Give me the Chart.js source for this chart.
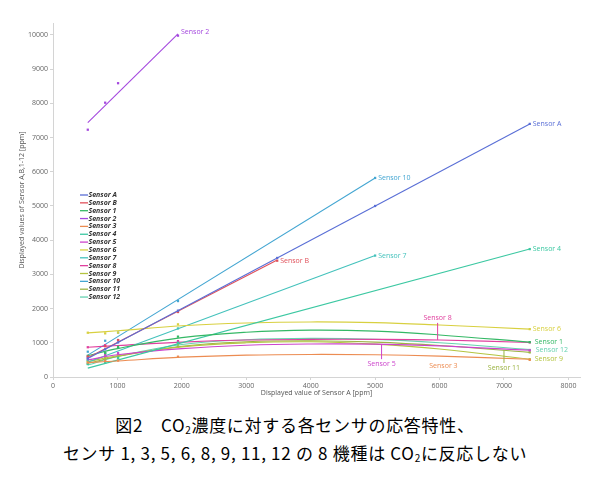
<!DOCTYPE html>
<html>
<head>
<meta charset="utf-8">
<script src="https://cdn.jsdelivr.net/npm/chart.js@4.4.0/dist/chart.umd.min.js"></script>
<style>
body { margin: 0; background: #fff; }
#wrap { position: relative; width: 590px; height: 477px; overflow: hidden; }
.cap { position: absolute; left: 0; width: 590px; text-align: center; font-family: "Noto Sans CJK JP", sans-serif; font-size: 17px; line-height: 20px; letter-spacing: 0.7px; color: #000; }
.cap sub { font-size: 10px; vertical-align: -2px; line-height: 0; }
</style>
</head>
<body>
<div id="wrap">
  <canvas id="chart" width="590" height="402"></canvas>
  <div class="cap" style="top:415px">図2　CO<sub>2</sub>濃度に対する各センサの応答特性、</div>
  <div class="cap" style="top:443px">センサ 1, 3, 5, 6, 8, 9, 11, 12 の 8 機種は CO<sub>2</sub>に反応しない</div>
</div>
<script>
// names and colours, same order as the legend
var sensorNames = ['Sensor A', 'Sensor B', 'Sensor 1', 'Sensor 2', 'Sensor 3', 'Sensor 4', 'Sensor 5',
    'Sensor 6', 'Sensor 7', 'Sensor 8', 'Sensor 9', 'Sensor 10', 'Sensor 11', 'Sensor 12'];
var sensorColors = ['#5a6fd6', '#e0505a', '#34b865', '#a448de', '#ec8c52', '#3cc8a2', '#cc44cc',
    '#d8d040', '#44c2bc', '#e0409e', '#b4c440', '#44a6d2', '#9cb444', '#66d2b0'];

// measured points [x, y]
var measA = [[540, 540], [810, 810], [1010, 1010], [1940, 1940], [3480, 3480], [5000, 5000], [7400, 7400]];
var measB = [[540, 600], [810, 900], [1010, 1080], [1940, 1900], [3480, 3400]];
var meas1 = [[540, 620], [810, 700], [1010, 880], [1940, 1180], [7400, 1020]];
var meas2 = [[540, 7230], [810, 8020], [1010, 8590], [1940, 9980]];
var meas3 = [[540, 420], [810, 470], [1010, 480], [1940, 594], [7400, 500]];
var meas4 = [[540, 380], [810, 450], [1010, 560], [1940, 1000], [7400, 3740]];
var meas5 = [[540, 560], [810, 650], [1010, 700], [1940, 1000], [7400, 780]];
var meas6 = [[540, 1295], [810, 1276], [1010, 1300], [1940, 1540], [7400, 1400]];
var meas7 = [[540, 500], [810, 700], [1010, 850], [1940, 1420], [5000, 3550]];
var meas8 = [[540, 870], [810, 930], [1010, 1080], [1940, 1050], [7400, 1010]];
var meas9 = [[540, 480], [810, 600], [1010, 650], [1940, 960], [7400, 520]];
var meas10 = [[540, 740], [810, 1060], [1010, 1300], [1940, 2220], [5000, 5820]];
var meas11 = [[540, 450], [810, 560], [1010, 620], [1940, 880], [7400, 720]];
var meas12 = [[540, 380], [810, 420], [1010, 560], [1940, 900], [7400, 790]];

// trend lines [x, y]
var trendA = [[540, 540], [7400, 7400]];
var trendB = [[540, 560], [3480, 3420]];
var trend1 = [[540, 620], [1000, 830], [2000, 1150], [3000, 1310], [4000, 1370], [5000, 1340], [6000, 1230], [7400, 1020]];
var trend2 = [[540, 7440], [1940, 10030]];
var trend3 = [[540, 420], [1000, 470], [2000, 580], [3000, 640], [4000, 660], [5000, 650], [6000, 610], [7400, 520]];
var trend4 = [[540, 260], [7400, 3743]];
var trend5 = [[540, 500], [1000, 650], [2000, 830], [3000, 930], [4000, 965], [5000, 960], [6000, 910], [7400, 780]];
var trend6 = [[540, 1290], [1000, 1350], [2000, 1500], [3000, 1580], [4000, 1610], [5000, 1590], [6000, 1520], [7400, 1400]];
var trend7 = [[540, 430], [5000, 3550]];
var trend8 = [[540, 870], [1000, 920], [2000, 1020], [3000, 1080], [4000, 1100], [5000, 1100], [6000, 1080], [7400, 1010]];
var trend9 = [[540, 450], [1000, 620], [2000, 880], [3000, 1000], [4000, 1030], [5000, 960], [6000, 820], [7400, 520]];
var trend10 = [[540, 640], [5000, 5820]];
var trend11 = [[540, 400], [1000, 600], [2000, 900], [3000, 1030], [4000, 1060], [5000, 1020], [6000, 920], [7400, 720]];
var trend12 = [[540, 350], [1000, 600], [2000, 950], [3000, 1090], [4000, 1130], [5000, 1100], [6000, 1000], [7400, 800]];

var xTicks = [0, 1000, 2000, 3000, 4000, 5000, 6000, 7000, 8000];
var yTicks = [0, 1000, 2000, 3000, 4000, 5000, 6000, 7000, 8000, 9000, 10000];

var measList = [measA, measB, meas1, meas2, meas3, meas4, meas5, meas6, meas7, meas8, meas9, meas10, meas11, meas12];
var trendList = [trendA, trendB, trend1, trend2, trend3, trend4, trend5, trend6, trend7, trend8, trend9, trend10, trend11, trend12];

function toXY(arr) {
    return arr.map(function (p) { return { x: p[0], y: p[1] }; });
}

var datasets = [];
for (var i = 0; i < sensorNames.length; i++) {
    datasets.push({
        label: sensorNames[i],
        data: toXY(trendList[i]),
        showLine: true,
        borderColor: sensorColors[i],
        borderWidth: 1.1,
        pointRadius: 0,
        tension: trendList[i].length > 2 ? 0.4 : 0
    });
    datasets.push({
        label: sensorNames[i] + ' data',
        data: toXY(measList[i]),
        showLine: false,
        pointStyle: 'rect',
        pointRadius: 1.6,
        backgroundColor: sensorColors[i],
        borderColor: sensorColors[i],
        borderWidth: 0
    });
}

// end labels: sensor index, anchor point, text offset, leader line
var tags = [
    { s: 3, x: 1940, y: 10030, dx: 3, dy: -2, align: 'left' },
    { s: 0, x: 7400, y: 7400, dx: 3, dy: 0, align: 'left' },
    { s: 11, x: 5000, y: 5820, dx: 3, dy: 0, align: 'left' },
    { s: 1, x: 3480, y: 3400, dx: 3, dy: 0, align: 'left' },
    { s: 8, x: 5000, y: 3547, dx: 3, dy: 0, align: 'left' },
    { s: 5, x: 7400, y: 3743, dx: 3, dy: 0, align: 'left' },
    { s: 7, x: 7400, y: 1400, dx: 3, dy: 0, align: 'left' },
    { s: 2, x: 7400, y: 1020, dx: 5, dy: 0, align: 'left' },
    { s: 13, x: 7400, y: 800, dx: 6, dy: 0, align: 'left' },
    { s: 10, x: 7400, y: 520, dx: 5, dy: 0, align: 'left' },
    { s: 9, x: 5970, y: 1085, dx: 0, dy: -22, align: 'center', leader: true },
    { s: 6, x: 5100, y: 960, dx: 0, dy: 20, align: 'center', leader: true },
    { s: 4, x: 6060, y: 600, dx: 0, dy: 10, align: 'center' },
    { s: 12, x: 7000, y: 790, dx: 0, dy: 18, align: 'center', leader: true }
];

var tagPlugin = {
    id: 'tags',
    afterDatasetsDraw: function (chart) {
        var ctx = chart.ctx;
        var xs = chart.scales.x, ys = chart.scales.y;
        ctx.save();
        ctx.font = '7px "Open Sans"';
        ctx.textBaseline = 'middle';
        tags.forEach(function (t) {
            var px = xs.getPixelForValue(t.x), py = ys.getPixelForValue(t.y);
            var col = sensorColors[t.s];
            if (t.leader) {
                ctx.strokeStyle = col;
                ctx.lineWidth = 1;
                ctx.beginPath();
                ctx.moveTo(px, py);
                ctx.lineTo(px, py + t.dy + (t.dy > 0 ? -5 : 5));
                ctx.stroke();
            }
            ctx.fillStyle = col;
            ctx.textAlign = t.align;
            ctx.fillText(sensorNames[t.s], px + t.dx, py + t.dy);
        });

        // legend box on the left
        ctx.font = 'italic bold 7px "Open Sans"';
        ctx.textAlign = 'left';
        for (var i = 0; i < sensorNames.length; i++) {
            var ly = 195 + i * 7.85;
            ctx.strokeStyle = sensorColors[i];
            ctx.lineWidth = 1.3;
            ctx.beginPath();
            ctx.moveTo(80, ly);
            ctx.lineTo(88, ly);
            ctx.stroke();
            ctx.fillStyle = '#333';
            ctx.fillText(sensorNames[i], 88.5, ly);
        }
        ctx.restore();
    }
};

var tickFont = { size: 7, family: 'Open Sans' };

function plainTick(value) {
    return String(value);
}

var myChart = new Chart(document.getElementById('chart'), {
    type: 'scatter',
    data: { datasets: datasets },
    options: {
        responsive: false,
        animation: false,
        layout: { padding: { top: 23, right: 10, left: 0, bottom: 0 } },
        plugins: { legend: { display: false }, tooltip: { enabled: false } },
        scales: {
            x: {
                type: 'linear',
                min: 0,
                max: 8180,
                afterBuildTicks: function (scale) {
                    scale.ticks = xTicks.map(function (v) { return { value: v }; });
                },
                afterFit: function (scale) { scale.height = 25; },
                ticks: { font: tickFont, color: '#666', padding: 2, maxRotation: 0, callback: plainTick },
                grid: { drawOnChartArea: false, tickLength: 3, color: '#d4d4d4' },
                border: { color: '#d4d4d4' },
                title: {
                    display: true,
                    text: 'Displayed value of Sensor A [ppm]',
                    font: tickFont,
                    color: '#555',
                    padding: { top: 0, bottom: 5 }
                }
            },
            y: {
                type: 'linear',
                min: 0,
                max: 10350,
                afterBuildTicks: function (scale) {
                    scale.ticks = yTicks.map(function (v) { return { value: v }; });
                },
                afterFit: function (scale) { scale.width = 53; },
                ticks: { font: tickFont, color: '#666', padding: 2, callback: plainTick },
                grid: { drawOnChartArea: false, tickLength: 3, color: '#d4d4d4' },
                border: { color: '#d4d4d4' },
                title: {
                    display: true,
                    text: 'Displayed values of Sensor A,B,1-12 [ppm]',
                    font: tickFont,
                    color: '#555',
                    padding: { top: 18, bottom: 0 }
                }
            }
        }
    },
    plugins: [tagPlugin]
});
</script>
</body>
</html>
